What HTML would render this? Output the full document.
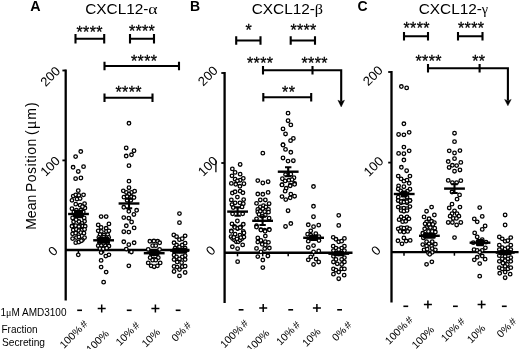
<!DOCTYPE html>
<html><head><meta charset="utf-8"><style>
html,body{margin:0;padding:0;background:#fff;}
svg{display:block;filter:grayscale(1);}
</style></head><body>
<svg width="520" height="349" viewBox="0 0 520 349">
<rect width="520" height="349" fill="#fff"/>
<text x="30.2" y="10.8" font-size="14.3" text-anchor="start" font-weight="bold" font-family="Liberation Sans, sans-serif">A</text>
<text x="189.9" y="10.8" font-size="14" text-anchor="start" font-weight="bold" font-family="Liberation Sans, sans-serif">B</text>
<text x="357.6" y="11.1" font-size="14" text-anchor="start" font-weight="bold" font-family="Liberation Sans, sans-serif">C</text>
<text x="0" y="0" font-size="14" font-family="Liberation Sans, sans-serif" transform="translate(85.2 14) scale(1.1 1)">CXCL12-</text>
<text x="0" y="0" font-size="14.5" font-family="Liberation Serif, serif" transform="translate(148.2 13.8) scale(1.22 1)">α</text>
<text x="0" y="0" font-size="14" font-family="Liberation Sans, sans-serif" transform="translate(251.7 14) scale(1.1 1)">CXCL12-</text>
<text x="0" y="0" font-size="14.5" font-family="Liberation Serif, serif" transform="translate(314.7 13.8) scale(1.12 1)">β</text>
<text x="0" y="0" font-size="14" font-family="Liberation Sans, sans-serif" transform="translate(418.7 14) scale(1.1 1)">CXCL12-</text>
<text x="0" y="0" font-size="14.5" font-family="Liberation Serif, serif" transform="translate(481.7 13.8) scale(0.98 1)">γ</text>
<path d="M65.7 69.5V300.5" stroke="#000" stroke-width="2.3" fill="none"/>
<path d="M65.7 250H189.5" stroke="#000" stroke-width="2.4" fill="none"/>
<path d="M62.400000000000006 70.5H65.7" stroke="#000" stroke-width="1.8" fill="none"/>
<path d="M62.400000000000006 160.4H65.7" stroke="#000" stroke-width="1.8" fill="none"/>
<text x="61.00000000000001" y="71.8" font-size="13" text-anchor="end" font-family="Liberation Sans, sans-serif" transform="rotate(-45 61.00000000000001 71.8)">200</text>
<text x="61.00000000000001" y="161.70000000000002" font-size="13" text-anchor="end" font-family="Liberation Sans, sans-serif" transform="rotate(-45 61.00000000000001 161.70000000000002)">100</text>
<text x="58.73" y="251.54000000000002" font-size="13" text-anchor="end" font-family="Liberation Sans, sans-serif" transform="rotate(-45 58.73 251.54000000000002)">0</text>
<path d="M224.6 72V303" stroke="#000" stroke-width="2.3" fill="none"/>
<path d="M224.6 252.75H352.5" stroke="#000" stroke-width="2.4" fill="none"/>
<path d="M221.29999999999998 73H224.6" stroke="#000" stroke-width="1.8" fill="none"/>
<path d="M221.29999999999998 163H224.6" stroke="#000" stroke-width="1.8" fill="none"/>
<text x="218.7" y="71.3" font-size="13" text-anchor="end" font-family="Liberation Sans, sans-serif" transform="rotate(-45 218.7 71.3)">200</text>
<text x="218.7" y="161.60000000000002" font-size="13" text-anchor="end" font-family="Liberation Sans, sans-serif" transform="rotate(-45 218.7 161.60000000000002)">100</text>
<text x="216.33" y="251.04000000000002" font-size="13" text-anchor="end" font-family="Liberation Sans, sans-serif" transform="rotate(-45 216.33 251.04000000000002)">0</text>
<path d="M215.9 160.8V172.2" stroke="#000" stroke-width="1.3"/>
<path d="M391.5 71V302.5" stroke="#000" stroke-width="2.3" fill="none"/>
<path d="M391.5 252.1H518.6" stroke="#000" stroke-width="2.4" fill="none"/>
<path d="M388.2 72H391.5" stroke="#000" stroke-width="1.8" fill="none"/>
<path d="M388.2 162.6H391.5" stroke="#000" stroke-width="1.8" fill="none"/>
<text x="383.70000000000005" y="71.2" font-size="13" text-anchor="end" font-family="Liberation Sans, sans-serif" transform="rotate(-45 383.70000000000005 71.2)">200</text>
<text x="384.3" y="161.8" font-size="13" text-anchor="end" font-family="Liberation Sans, sans-serif" transform="rotate(-45 384.3 161.8)">100</text>
<text x="381.63" y="251.24" font-size="13" text-anchor="end" font-family="Liberation Sans, sans-serif" transform="rotate(-45 381.63 251.24)">0</text>
<text x="0" y="0" font-size="14" font-family="Liberation Sans, sans-serif" transform="translate(35.8 229.8) rotate(-90)" >Mean</text>
<text x="0" y="0" font-size="14" font-family="Liberation Sans, sans-serif" transform="translate(35.8 192.0) rotate(-90)" letter-spacing="0.5">Position</text>
<text x="0" y="0" font-size="14" font-family="Liberation Sans, sans-serif" transform="translate(35.8 135.0) rotate(-90)" letter-spacing="1.05">(<tspan font-family="Liberation Serif, serif" font-size="16">μ</tspan>m)</text>
<path d="M75.5 34.0V43.400000000000006M75.5 38.7H104.2M104.2 34.0V43.400000000000006" stroke="#000" stroke-width="2.1" fill="none"/>
<text x="89.65" y="37.8" letter-spacing="0.3" stroke="#000" stroke-width="0.3" font-size="16" text-anchor="middle" font-family="Liberation Sans, sans-serif">****</text>
<path d="M130 34.0V43.400000000000006M130 38.7H154M154 34.0V43.400000000000006" stroke="#000" stroke-width="2.1" fill="none"/>
<text x="141.95000000000002" y="37.3" letter-spacing="0.3" stroke="#000" stroke-width="0.3" font-size="16" text-anchor="middle" font-family="Liberation Sans, sans-serif">****</text>
<path d="M104.5 61.8V70.2M104.5 66H179M179 61.8V70.2" stroke="#000" stroke-width="2.1" fill="none"/>
<text x="144.15" y="67.3" letter-spacing="0.3" stroke="#000" stroke-width="0.3" font-size="16" text-anchor="middle" font-family="Liberation Sans, sans-serif">****</text>
<path d="M104.5 93.5V101.9M104.5 97.7H152.5M152.5 93.5V101.9" stroke="#000" stroke-width="2.1" fill="none"/>
<text x="128.65" y="98.3" letter-spacing="0.3" stroke="#000" stroke-width="0.3" font-size="16" text-anchor="middle" font-family="Liberation Sans, sans-serif">****</text>
<path d="M236.2 36.3V44.7M236.2 40.5H260.5M260.5 36.3V44.7" stroke="#000" stroke-width="2.1" fill="none"/>
<text x="248.85" y="36.099999999999994" letter-spacing="0.3" stroke="#000" stroke-width="0.3" font-size="16" text-anchor="middle" font-family="Liberation Sans, sans-serif">*</text>
<path d="M290.7 36.3V44.7M290.7 40.5H315M315 36.3V44.7" stroke="#000" stroke-width="2.1" fill="none"/>
<text x="303.54999999999995" y="36.099999999999994" letter-spacing="0.3" stroke="#000" stroke-width="0.3" font-size="16" text-anchor="middle" font-family="Liberation Sans, sans-serif">****</text>
<path d="M263 66V74.6M263 70.3H341.2V101.5M312.5 66V74.6" stroke="#000" stroke-width="2.1" fill="none"/>
<path d="M337.9 100.2L341.2 101.6L344.5 100.2L341.2 106.9Z" fill="#000" stroke="#000" stroke-width="0.4"/>
<text x="260.15" y="68.8" letter-spacing="0.3" stroke="#000" stroke-width="0.3" font-size="16" text-anchor="middle" font-family="Liberation Sans, sans-serif">****</text>
<text x="314.65" y="68.8" letter-spacing="0.3" stroke="#000" stroke-width="0.3" font-size="16" text-anchor="middle" font-family="Liberation Sans, sans-serif">****</text>
<path d="M263.3 93.1V101.5M263.3 97.3H311.2M311.2 93.1V101.5" stroke="#000" stroke-width="2.1" fill="none"/>
<text x="288.65" y="97.8" letter-spacing="0.3" stroke="#000" stroke-width="0.3" font-size="16" text-anchor="middle" font-family="Liberation Sans, sans-serif">**</text>
<path d="M404 32.0V40.400000000000006M404 36.2H428M428 32.0V40.400000000000006" stroke="#000" stroke-width="2.1" fill="none"/>
<text x="416.65" y="33.599999999999994" letter-spacing="0.3" stroke="#000" stroke-width="0.3" font-size="16" text-anchor="middle" font-family="Liberation Sans, sans-serif">****</text>
<path d="M458 32.0V40.400000000000006M458 36.2H482.5M482.5 32.0V40.400000000000006" stroke="#000" stroke-width="2.1" fill="none"/>
<text x="471.15" y="33.599999999999994" letter-spacing="0.3" stroke="#000" stroke-width="0.3" font-size="16" text-anchor="middle" font-family="Liberation Sans, sans-serif">****</text>
<path d="M428 64V72.6M428 68.2H507.9V100.5M479.6 64V72.6" stroke="#000" stroke-width="2.1" fill="none"/>
<path d="M504.6 99.4L507.9 100.8L511.2 99.4L507.9 105.8Z" fill="#000" stroke="#000" stroke-width="0.4"/>
<text x="428.65" y="66.6" letter-spacing="0.3" stroke="#000" stroke-width="0.3" font-size="16" text-anchor="middle" font-family="Liberation Sans, sans-serif">****</text>
<text x="478.84999999999997" y="66.6" letter-spacing="0.3" stroke="#000" stroke-width="0.3" font-size="16" text-anchor="middle" font-family="Liberation Sans, sans-serif">**</text>
<text x="0.5" y="316" font-size="10" font-family="Liberation Sans, sans-serif">1<tspan font-family="Liberation Serif, serif">μ</tspan>M AMD3100</text>
<text x="1.5" y="333" font-size="10" text-anchor="start" font-weight="normal" font-family="Liberation Sans, sans-serif">Fraction</text>
<text x="2" y="345.8" font-size="10.2" text-anchor="start" font-weight="normal" font-family="Liberation Sans, sans-serif">Secreting</text>
<path d="M77.19999999999999 310.3H82.0" stroke="#000" stroke-width="1.6"/>
<text x="88.4" y="324.6" font-size="10.5" text-anchor="end" font-family="Liberation Sans, sans-serif" transform="rotate(-45 88.4 324.6)">100%<tspan dx="1.8">#</tspan></text>
<path d="M97.7 308.6H105.7M101.7 304.6V312.6" stroke="#000" stroke-width="1.5"/>
<text x="109.60000000000001" y="334.3" font-size="10.5" text-anchor="end" font-family="Liberation Sans, sans-serif" transform="rotate(-45 109.60000000000001 334.3)">100%</text>
<path d="M126.79999999999998 310.3H131.6" stroke="#000" stroke-width="1.6"/>
<text x="140.3" y="326.0" font-size="10.5" text-anchor="end" font-family="Liberation Sans, sans-serif" transform="rotate(-45 140.3 326.0)">10%<tspan dx="1.8">#</tspan></text>
<path d="M151.4 308.6H159.4M155.4 304.6V312.6" stroke="#000" stroke-width="1.5"/>
<text x="160.8" y="333.0" font-size="10.5" text-anchor="end" font-family="Liberation Sans, sans-serif" transform="rotate(-45 160.8 333.0)">10%</text>
<path d="M175.7 310.3H180.5" stroke="#000" stroke-width="1.6"/>
<text x="191.9" y="326.0" font-size="10.5" text-anchor="end" font-family="Liberation Sans, sans-serif" transform="rotate(-45 191.9 326.0)">0%<tspan dx="1.8">#</tspan></text>
<path d="M238.7 309.8H243.5" stroke="#000" stroke-width="1.6"/>
<text x="248.9" y="324.1" font-size="10.5" text-anchor="end" font-family="Liberation Sans, sans-serif" transform="rotate(-45 248.9 324.1)">100%<tspan dx="1.8">#</tspan></text>
<path d="M259.2 308.1H267.2M263.2 304.1V312.1" stroke="#000" stroke-width="1.5"/>
<text x="270.09999999999997" y="333.8" font-size="10.5" text-anchor="end" font-family="Liberation Sans, sans-serif" transform="rotate(-45 270.09999999999997 333.8)">100%</text>
<path d="M288.3 309.8H293.09999999999997" stroke="#000" stroke-width="1.6"/>
<text x="300.79999999999995" y="325.5" font-size="10.5" text-anchor="end" font-family="Liberation Sans, sans-serif" transform="rotate(-45 300.79999999999995 325.5)">10%<tspan dx="1.8">#</tspan></text>
<path d="M312.9 308.1H320.9M316.9 304.1V312.1" stroke="#000" stroke-width="1.5"/>
<text x="321.29999999999995" y="332.5" font-size="10.5" text-anchor="end" font-family="Liberation Sans, sans-serif" transform="rotate(-45 321.29999999999995 332.5)">10%</text>
<path d="M337.20000000000005 309.8H342.0" stroke="#000" stroke-width="1.6"/>
<text x="352.4" y="325.5" font-size="10.5" text-anchor="end" font-family="Liberation Sans, sans-serif" transform="rotate(-45 352.4 325.5)">0%<tspan dx="1.8">#</tspan></text>
<path d="M403.4 306.3H408.19999999999993" stroke="#000" stroke-width="1.6"/>
<text x="413.7" y="320.6" font-size="10.5" text-anchor="end" font-family="Liberation Sans, sans-serif" transform="rotate(-45 413.7 320.6)">100%<tspan dx="1.8">#</tspan></text>
<path d="M423.9 304.6H431.9M427.9 300.6V308.6" stroke="#000" stroke-width="1.5"/>
<text x="434.9" y="330.3" font-size="10.5" text-anchor="end" font-family="Liberation Sans, sans-serif" transform="rotate(-45 434.9 330.3)">100%</text>
<path d="M453.0 306.3H457.79999999999995" stroke="#000" stroke-width="1.6"/>
<text x="465.6" y="322.0" font-size="10.5" text-anchor="end" font-family="Liberation Sans, sans-serif" transform="rotate(-45 465.6 322.0)">10%<tspan dx="1.8">#</tspan></text>
<path d="M477.6 304.6H485.6M481.6 300.6V308.6" stroke="#000" stroke-width="1.5"/>
<text x="486.1" y="329.0" font-size="10.5" text-anchor="end" font-family="Liberation Sans, sans-serif" transform="rotate(-45 486.1 329.0)">10%</text>
<path d="M501.9 306.3H506.69999999999993" stroke="#000" stroke-width="1.6"/>
<text x="517.1999999999999" y="322.0" font-size="10.5" text-anchor="end" font-family="Liberation Sans, sans-serif" transform="rotate(-45 517.1999999999999 322.0)">0%<tspan dx="1.8">#</tspan></text>
<path d="M78.4 249.75V253.35" stroke="#000" stroke-width="1.5"/>
<path d="M103.6 249.75V253.35" stroke="#000" stroke-width="1.5"/>
<path d="M128.6 249.75V253.35" stroke="#000" stroke-width="1.5"/>
<path d="M154.2 249.75V253.35" stroke="#000" stroke-width="1.5"/>
<path d="M179.5 249.75V253.35" stroke="#000" stroke-width="1.5"/>
<path d="M237.5 252.75V256.35" stroke="#000" stroke-width="1.5"/>
<path d="M262.7 252.75V256.35" stroke="#000" stroke-width="1.5"/>
<path d="M288.2 252.75V256.35" stroke="#000" stroke-width="1.5"/>
<path d="M313.6 252.75V256.35" stroke="#000" stroke-width="1.5"/>
<path d="M338.8 252.75V256.35" stroke="#000" stroke-width="1.5"/>
<path d="M404 252.1V255.7" stroke="#000" stroke-width="1.5"/>
<path d="M429.4 252.1V255.7" stroke="#000" stroke-width="1.5"/>
<path d="M454.4 252.1V255.7" stroke="#000" stroke-width="1.5"/>
<path d="M480 252.1V255.7" stroke="#000" stroke-width="1.5"/>
<path d="M505.2 252.1V255.7" stroke="#000" stroke-width="1.5"/>
<circle cx="80.78" cy="151.55" r="1.78" fill="#fff" stroke="#000" stroke-width="1.3"/>
<circle cx="75.62" cy="156.59" r="1.78" fill="#fff" stroke="#000" stroke-width="1.3"/>
<circle cx="73.1" cy="167.29" r="1.78" fill="#fff" stroke="#000" stroke-width="1.3"/>
<circle cx="83.55" cy="166.66" r="1.78" fill="#fff" stroke="#000" stroke-width="1.3"/>
<circle cx="78.26" cy="171.45" r="1.78" fill="#fff" stroke="#000" stroke-width="1.3"/>
<circle cx="75.62" cy="178.63" r="1.78" fill="#fff" stroke="#000" stroke-width="1.3"/>
<circle cx="80.91" cy="178.0" r="1.78" fill="#fff" stroke="#000" stroke-width="1.3"/>
<circle cx="78.26" cy="190.67" r="1.78" fill="#fff" stroke="#000" stroke-width="1.3"/>
<circle cx="73.22" cy="196.08" r="1.78" fill="#fff" stroke="#000" stroke-width="1.3"/>
<circle cx="75.74" cy="194.82" r="1.78" fill="#fff" stroke="#000" stroke-width="1.3"/>
<circle cx="78.89" cy="195.33" r="1.78" fill="#fff" stroke="#000" stroke-width="1.3"/>
<circle cx="83.55" cy="194.82" r="1.78" fill="#fff" stroke="#000" stroke-width="1.3"/>
<circle cx="71.96" cy="200.37" r="1.78" fill="#fff" stroke="#000" stroke-width="1.3"/>
<circle cx="77.0" cy="199.11" r="1.78" fill="#fff" stroke="#000" stroke-width="1.3"/>
<circle cx="80.15" cy="198.6" r="1.78" fill="#fff" stroke="#000" stroke-width="1.3"/>
<circle cx="75.74" cy="204.14" r="1.78" fill="#fff" stroke="#000" stroke-width="1.3"/>
<circle cx="80.15" cy="205.15" r="1.78" fill="#fff" stroke="#000" stroke-width="1.3"/>
<circle cx="84.56" cy="203.64" r="1.78" fill="#fff" stroke="#000" stroke-width="1.3"/>
<circle cx="71.96" cy="208.68" r="1.78" fill="#fff" stroke="#000" stroke-width="1.3"/>
<circle cx="84.94" cy="208.05" r="1.78" fill="#fff" stroke="#000" stroke-width="1.3"/>
<circle cx="82.42" cy="206.66" r="1.78" fill="#fff" stroke="#000" stroke-width="1.3"/>
<circle cx="73.85" cy="212.08" r="1.78" fill="#fff" stroke="#000" stroke-width="1.3"/>
<circle cx="83.3" cy="212.08" r="1.78" fill="#fff" stroke="#000" stroke-width="1.3"/>
<circle cx="76.37" cy="210.19" r="1.78" fill="#fff" stroke="#000" stroke-width="1.3"/>
<circle cx="80.78" cy="210.19" r="1.78" fill="#fff" stroke="#000" stroke-width="1.3"/>
<circle cx="78.26" cy="214.6" r="1.78" fill="#fff" stroke="#000" stroke-width="1.3"/>
<circle cx="75.11" cy="215.23" r="1.78" fill="#fff" stroke="#000" stroke-width="1.3"/>
<circle cx="81.66" cy="215.23" r="1.78" fill="#fff" stroke="#000" stroke-width="1.3"/>
<circle cx="72.59" cy="218.0" r="1.78" fill="#fff" stroke="#000" stroke-width="1.3"/>
<circle cx="84.18" cy="218.0" r="1.78" fill="#fff" stroke="#000" stroke-width="1.3"/>
<circle cx="73.6" cy="221.78" r="1.78" fill="#fff" stroke="#000" stroke-width="1.3"/>
<circle cx="78.89" cy="221.52" r="1.78" fill="#fff" stroke="#000" stroke-width="1.3"/>
<circle cx="84.56" cy="221.27" r="1.78" fill="#fff" stroke="#000" stroke-width="1.3"/>
<circle cx="82.04" cy="223.41" r="1.78" fill="#fff" stroke="#000" stroke-width="1.3"/>
<circle cx="76.12" cy="219.63" r="1.78" fill="#fff" stroke="#000" stroke-width="1.3"/>
<circle cx="72.59" cy="225.93" r="1.78" fill="#fff" stroke="#000" stroke-width="1.3"/>
<circle cx="76.37" cy="226.31" r="1.78" fill="#fff" stroke="#000" stroke-width="1.3"/>
<circle cx="80.15" cy="225.55" r="1.78" fill="#fff" stroke="#000" stroke-width="1.3"/>
<circle cx="83.93" cy="225.93" r="1.78" fill="#fff" stroke="#000" stroke-width="1.3"/>
<circle cx="71.96" cy="226.26" r="1.78" fill="#fff" stroke="#000" stroke-width="1.3"/>
<circle cx="75.74" cy="225.63" r="1.78" fill="#fff" stroke="#000" stroke-width="1.3"/>
<circle cx="78.89" cy="226.51" r="1.78" fill="#fff" stroke="#000" stroke-width="1.3"/>
<circle cx="82.67" cy="226.01" r="1.78" fill="#fff" stroke="#000" stroke-width="1.3"/>
<circle cx="85.19" cy="226.26" r="1.78" fill="#fff" stroke="#000" stroke-width="1.3"/>
<circle cx="73.22" cy="230.04" r="1.78" fill="#fff" stroke="#000" stroke-width="1.3"/>
<circle cx="76.37" cy="229.41" r="1.78" fill="#fff" stroke="#000" stroke-width="1.3"/>
<circle cx="78.89" cy="230.67" r="1.78" fill="#fff" stroke="#000" stroke-width="1.3"/>
<circle cx="82.04" cy="230.04" r="1.78" fill="#fff" stroke="#000" stroke-width="1.3"/>
<circle cx="84.56" cy="229.41" r="1.78" fill="#fff" stroke="#000" stroke-width="1.3"/>
<circle cx="72.59" cy="233.82" r="1.78" fill="#fff" stroke="#000" stroke-width="1.3"/>
<circle cx="75.74" cy="233.19" r="1.78" fill="#fff" stroke="#000" stroke-width="1.3"/>
<circle cx="78.89" cy="234.45" r="1.78" fill="#fff" stroke="#000" stroke-width="1.3"/>
<circle cx="80.78" cy="232.56" r="1.78" fill="#fff" stroke="#000" stroke-width="1.3"/>
<circle cx="83.93" cy="233.19" r="1.78" fill="#fff" stroke="#000" stroke-width="1.3"/>
<circle cx="72.59" cy="238.6" r="1.78" fill="#fff" stroke="#000" stroke-width="1.3"/>
<circle cx="76.37" cy="237.59" r="1.78" fill="#fff" stroke="#000" stroke-width="1.3"/>
<circle cx="78.89" cy="236.96" r="1.78" fill="#fff" stroke="#000" stroke-width="1.3"/>
<circle cx="82.67" cy="239.48" r="1.78" fill="#fff" stroke="#000" stroke-width="1.3"/>
<circle cx="84.56" cy="237.59" r="1.78" fill="#fff" stroke="#000" stroke-width="1.3"/>
<circle cx="75.74" cy="242.63" r="1.78" fill="#fff" stroke="#000" stroke-width="1.3"/>
<circle cx="78.89" cy="242.0" r="1.78" fill="#fff" stroke="#000" stroke-width="1.3"/>
<circle cx="81.41" cy="240.74" r="1.78" fill="#fff" stroke="#000" stroke-width="1.3"/>
<circle cx="78.26" cy="254.85" r="1.78" fill="#fff" stroke="#000" stroke-width="1.3"/>
<circle cx="101.12" cy="216.59" r="1.78" fill="#fff" stroke="#000" stroke-width="1.3"/>
<circle cx="106.16" cy="216.59" r="1.78" fill="#fff" stroke="#000" stroke-width="1.3"/>
<circle cx="98.22" cy="224.9" r="1.78" fill="#fff" stroke="#000" stroke-width="1.3"/>
<circle cx="108.93" cy="223.89" r="1.78" fill="#fff" stroke="#000" stroke-width="1.3"/>
<circle cx="101.12" cy="227.42" r="1.78" fill="#fff" stroke="#000" stroke-width="1.3"/>
<circle cx="106.16" cy="228.3" r="1.78" fill="#fff" stroke="#000" stroke-width="1.3"/>
<circle cx="98.22" cy="230.82" r="1.78" fill="#fff" stroke="#000" stroke-width="1.3"/>
<circle cx="101.37" cy="231.45" r="1.78" fill="#fff" stroke="#000" stroke-width="1.3"/>
<circle cx="106.41" cy="231.45" r="1.78" fill="#fff" stroke="#000" stroke-width="1.3"/>
<circle cx="108.93" cy="230.82" r="1.78" fill="#fff" stroke="#000" stroke-width="1.3"/>
<circle cx="100.11" cy="234.6" r="1.78" fill="#fff" stroke="#000" stroke-width="1.3"/>
<circle cx="103.89" cy="235.23" r="1.78" fill="#fff" stroke="#000" stroke-width="1.3"/>
<circle cx="107.67" cy="234.6" r="1.78" fill="#fff" stroke="#000" stroke-width="1.3"/>
<circle cx="103.64" cy="237.12" r="1.78" fill="#fff" stroke="#000" stroke-width="1.3"/>
<circle cx="98.85" cy="237.49" r="1.78" fill="#fff" stroke="#000" stroke-width="1.3"/>
<circle cx="108.68" cy="237.49" r="1.78" fill="#fff" stroke="#000" stroke-width="1.3"/>
<circle cx="98.22" cy="245.67" r="1.78" fill="#fff" stroke="#000" stroke-width="1.3"/>
<circle cx="101.37" cy="245.29" r="1.78" fill="#fff" stroke="#000" stroke-width="1.3"/>
<circle cx="105.15" cy="245.29" r="1.78" fill="#fff" stroke="#000" stroke-width="1.3"/>
<circle cx="108.93" cy="246.05" r="1.78" fill="#fff" stroke="#000" stroke-width="1.3"/>
<circle cx="99.86" cy="248.56" r="1.78" fill="#fff" stroke="#000" stroke-width="1.3"/>
<circle cx="103.26" cy="248.82" r="1.78" fill="#fff" stroke="#000" stroke-width="1.3"/>
<circle cx="106.66" cy="248.19" r="1.78" fill="#fff" stroke="#000" stroke-width="1.3"/>
<circle cx="101.12" cy="252.59" r="1.78" fill="#fff" stroke="#000" stroke-width="1.3"/>
<circle cx="108.93" cy="254.86" r="1.78" fill="#fff" stroke="#000" stroke-width="1.3"/>
<circle cx="105.78" cy="256.12" r="1.78" fill="#fff" stroke="#000" stroke-width="1.3"/>
<circle cx="101.12" cy="260.4" r="1.78" fill="#fff" stroke="#000" stroke-width="1.3"/>
<circle cx="101.12" cy="267.08" r="1.78" fill="#fff" stroke="#000" stroke-width="1.3"/>
<circle cx="106.16" cy="272.12" r="1.78" fill="#fff" stroke="#000" stroke-width="1.3"/>
<circle cx="103.64" cy="282.19" r="1.78" fill="#fff" stroke="#000" stroke-width="1.3"/>
<circle cx="99.48" cy="242.52" r="1.78" fill="#fff" stroke="#000" stroke-width="1.3"/>
<circle cx="107.67" cy="242.52" r="1.78" fill="#fff" stroke="#000" stroke-width="1.3"/>
<circle cx="103.64" cy="243.15" r="1.78" fill="#fff" stroke="#000" stroke-width="1.3"/>
<circle cx="128.97" cy="123.29" r="1.78" fill="#fff" stroke="#000" stroke-width="1.3"/>
<circle cx="126.2" cy="147.97" r="1.78" fill="#fff" stroke="#000" stroke-width="1.3"/>
<circle cx="134.01" cy="150.75" r="1.78" fill="#fff" stroke="#000" stroke-width="1.3"/>
<circle cx="131.49" cy="154.78" r="1.78" fill="#fff" stroke="#000" stroke-width="1.3"/>
<circle cx="126.2" cy="156.04" r="1.78" fill="#fff" stroke="#000" stroke-width="1.3"/>
<circle cx="128.97" cy="165.67" r="1.78" fill="#fff" stroke="#000" stroke-width="1.3"/>
<circle cx="128.97" cy="181.16" r="1.78" fill="#fff" stroke="#000" stroke-width="1.3"/>
<circle cx="128.97" cy="187.71" r="1.78" fill="#fff" stroke="#000" stroke-width="1.3"/>
<circle cx="123.3" cy="190.86" r="1.78" fill="#fff" stroke="#000" stroke-width="1.3"/>
<circle cx="126.45" cy="192.49" r="1.78" fill="#fff" stroke="#000" stroke-width="1.3"/>
<circle cx="131.49" cy="192.49" r="1.78" fill="#fff" stroke="#000" stroke-width="1.3"/>
<circle cx="134.63" cy="191.23" r="1.78" fill="#fff" stroke="#000" stroke-width="1.3"/>
<circle cx="128.97" cy="194.26" r="1.78" fill="#fff" stroke="#000" stroke-width="1.3"/>
<circle cx="123.93" cy="197.15" r="1.78" fill="#fff" stroke="#000" stroke-width="1.3"/>
<circle cx="127.08" cy="196.52" r="1.78" fill="#fff" stroke="#000" stroke-width="1.3"/>
<circle cx="131.49" cy="196.78" r="1.78" fill="#fff" stroke="#000" stroke-width="1.3"/>
<circle cx="134.01" cy="197.53" r="1.78" fill="#fff" stroke="#000" stroke-width="1.3"/>
<circle cx="127.08" cy="200.3" r="1.78" fill="#fff" stroke="#000" stroke-width="1.3"/>
<circle cx="130.86" cy="200.3" r="1.78" fill="#fff" stroke="#000" stroke-width="1.3"/>
<circle cx="123.79" cy="207.27" r="1.78" fill="#fff" stroke="#000" stroke-width="1.3"/>
<circle cx="128.83" cy="211.3" r="1.78" fill="#fff" stroke="#000" stroke-width="1.3"/>
<circle cx="136.64" cy="210.29" r="1.78" fill="#fff" stroke="#000" stroke-width="1.3"/>
<circle cx="133.87" cy="214.45" r="1.78" fill="#fff" stroke="#000" stroke-width="1.3"/>
<circle cx="123.79" cy="217.59" r="1.78" fill="#fff" stroke="#000" stroke-width="1.3"/>
<circle cx="128.83" cy="218.22" r="1.78" fill="#fff" stroke="#000" stroke-width="1.3"/>
<circle cx="131.6" cy="222.0" r="1.78" fill="#fff" stroke="#000" stroke-width="1.3"/>
<circle cx="126.31" cy="225.78" r="1.78" fill="#fff" stroke="#000" stroke-width="1.3"/>
<circle cx="134.12" cy="227.92" r="1.78" fill="#fff" stroke="#000" stroke-width="1.3"/>
<circle cx="123.79" cy="231.7" r="1.78" fill="#fff" stroke="#000" stroke-width="1.3"/>
<circle cx="128.83" cy="232.08" r="1.78" fill="#fff" stroke="#000" stroke-width="1.3"/>
<circle cx="123.79" cy="241.78" r="1.78" fill="#fff" stroke="#000" stroke-width="1.3"/>
<circle cx="128.83" cy="244.67" r="1.78" fill="#fff" stroke="#000" stroke-width="1.3"/>
<circle cx="134.12" cy="242.78" r="1.78" fill="#fff" stroke="#000" stroke-width="1.3"/>
<circle cx="126.31" cy="249.07" r="1.78" fill="#fff" stroke="#000" stroke-width="1.3"/>
<circle cx="131.35" cy="251.96" r="1.78" fill="#fff" stroke="#000" stroke-width="1.3"/>
<circle cx="128.83" cy="265.82" r="1.78" fill="#fff" stroke="#000" stroke-width="1.3"/>
<circle cx="149.86" cy="241.26" r="1.78" fill="#fff" stroke="#000" stroke-width="1.3"/>
<circle cx="153.89" cy="241.01" r="1.78" fill="#fff" stroke="#000" stroke-width="1.3"/>
<circle cx="157.67" cy="241.26" r="1.78" fill="#fff" stroke="#000" stroke-width="1.3"/>
<circle cx="159.69" cy="242.77" r="1.78" fill="#fff" stroke="#000" stroke-width="1.3"/>
<circle cx="152.63" cy="245.67" r="1.78" fill="#fff" stroke="#000" stroke-width="1.3"/>
<circle cx="155.78" cy="245.67" r="1.78" fill="#fff" stroke="#000" stroke-width="1.3"/>
<circle cx="148.22" cy="249.45" r="1.78" fill="#fff" stroke="#000" stroke-width="1.3"/>
<circle cx="159.56" cy="249.45" r="1.78" fill="#fff" stroke="#000" stroke-width="1.3"/>
<circle cx="150.11" cy="257.63" r="1.78" fill="#fff" stroke="#000" stroke-width="1.3"/>
<circle cx="153.89" cy="258.89" r="1.78" fill="#fff" stroke="#000" stroke-width="1.3"/>
<circle cx="158.3" cy="257.63" r="1.78" fill="#fff" stroke="#000" stroke-width="1.3"/>
<circle cx="152.63" cy="260.15" r="1.78" fill="#fff" stroke="#000" stroke-width="1.3"/>
<circle cx="155.78" cy="260.15" r="1.78" fill="#fff" stroke="#000" stroke-width="1.3"/>
<circle cx="148.22" cy="262.92" r="1.78" fill="#fff" stroke="#000" stroke-width="1.3"/>
<circle cx="160.19" cy="262.92" r="1.78" fill="#fff" stroke="#000" stroke-width="1.3"/>
<circle cx="151.12" cy="265.82" r="1.78" fill="#fff" stroke="#000" stroke-width="1.3"/>
<circle cx="154.14" cy="266.7" r="1.78" fill="#fff" stroke="#000" stroke-width="1.3"/>
<circle cx="157.42" cy="265.82" r="1.78" fill="#fff" stroke="#000" stroke-width="1.3"/>
<circle cx="179.46" cy="213.56" r="1.78" fill="#fff" stroke="#000" stroke-width="1.3"/>
<circle cx="179.46" cy="222.63" r="1.78" fill="#fff" stroke="#000" stroke-width="1.3"/>
<circle cx="173.79" cy="234.97" r="1.78" fill="#fff" stroke="#000" stroke-width="1.3"/>
<circle cx="176.56" cy="236.74" r="1.78" fill="#fff" stroke="#000" stroke-width="1.3"/>
<circle cx="179.46" cy="239.63" r="1.78" fill="#fff" stroke="#000" stroke-width="1.3"/>
<circle cx="182.23" cy="238.75" r="1.78" fill="#fff" stroke="#000" stroke-width="1.3"/>
<circle cx="185.13" cy="235.86" r="1.78" fill="#fff" stroke="#000" stroke-width="1.3"/>
<circle cx="174.04" cy="242.77" r="1.78" fill="#fff" stroke="#000" stroke-width="1.3"/>
<circle cx="176.56" cy="245.04" r="1.78" fill="#fff" stroke="#000" stroke-width="1.3"/>
<circle cx="179.46" cy="246.93" r="1.78" fill="#fff" stroke="#000" stroke-width="1.3"/>
<circle cx="182.23" cy="245.04" r="1.78" fill="#fff" stroke="#000" stroke-width="1.3"/>
<circle cx="185.13" cy="243.15" r="1.78" fill="#fff" stroke="#000" stroke-width="1.3"/>
<circle cx="175.05" cy="248.19" r="1.78" fill="#fff" stroke="#000" stroke-width="1.3"/>
<circle cx="185.13" cy="248.19" r="1.78" fill="#fff" stroke="#000" stroke-width="1.3"/>
<circle cx="174.04" cy="255.11" r="1.78" fill="#fff" stroke="#000" stroke-width="1.3"/>
<circle cx="185.13" cy="255.74" r="1.78" fill="#fff" stroke="#000" stroke-width="1.3"/>
<circle cx="176.56" cy="257.0" r="1.78" fill="#fff" stroke="#000" stroke-width="1.3"/>
<circle cx="182.23" cy="257.0" r="1.78" fill="#fff" stroke="#000" stroke-width="1.3"/>
<circle cx="174.04" cy="259.52" r="1.78" fill="#fff" stroke="#000" stroke-width="1.3"/>
<circle cx="179.46" cy="258.89" r="1.78" fill="#fff" stroke="#000" stroke-width="1.3"/>
<circle cx="185.13" cy="259.52" r="1.78" fill="#fff" stroke="#000" stroke-width="1.3"/>
<circle cx="177.19" cy="262.04" r="1.78" fill="#fff" stroke="#000" stroke-width="1.3"/>
<circle cx="181.6" cy="262.67" r="1.78" fill="#fff" stroke="#000" stroke-width="1.3"/>
<circle cx="174.04" cy="266.45" r="1.78" fill="#fff" stroke="#000" stroke-width="1.3"/>
<circle cx="177.19" cy="267.08" r="1.78" fill="#fff" stroke="#000" stroke-width="1.3"/>
<circle cx="182.23" cy="266.7" r="1.78" fill="#fff" stroke="#000" stroke-width="1.3"/>
<circle cx="185.13" cy="266.2" r="1.78" fill="#fff" stroke="#000" stroke-width="1.3"/>
<circle cx="179.46" cy="269.6" r="1.78" fill="#fff" stroke="#000" stroke-width="1.3"/>
<circle cx="174.04" cy="271.49" r="1.78" fill="#fff" stroke="#000" stroke-width="1.3"/>
<circle cx="185.13" cy="272.49" r="1.78" fill="#fff" stroke="#000" stroke-width="1.3"/>
<circle cx="179.46" cy="275.89" r="1.78" fill="#fff" stroke="#000" stroke-width="1.3"/>
<circle cx="240.15" cy="164.48" r="1.78" fill="#fff" stroke="#000" stroke-width="1.3"/>
<circle cx="232.34" cy="168.89" r="1.78" fill="#fff" stroke="#000" stroke-width="1.3"/>
<circle cx="235.11" cy="172.42" r="1.78" fill="#fff" stroke="#000" stroke-width="1.3"/>
<circle cx="240.15" cy="174.18" r="1.78" fill="#fff" stroke="#000" stroke-width="1.3"/>
<circle cx="231.96" cy="175.82" r="1.78" fill="#fff" stroke="#000" stroke-width="1.3"/>
<circle cx="243.3" cy="178.34" r="1.78" fill="#fff" stroke="#000" stroke-width="1.3"/>
<circle cx="235.11" cy="179.22" r="1.78" fill="#fff" stroke="#000" stroke-width="1.3"/>
<circle cx="240.15" cy="180.23" r="1.78" fill="#fff" stroke="#000" stroke-width="1.3"/>
<circle cx="237.38" cy="180.86" r="1.78" fill="#fff" stroke="#000" stroke-width="1.3"/>
<circle cx="231.34" cy="183.38" r="1.78" fill="#fff" stroke="#000" stroke-width="1.3"/>
<circle cx="243.93" cy="183.75" r="1.78" fill="#fff" stroke="#000" stroke-width="1.3"/>
<circle cx="235.74" cy="184.26" r="1.78" fill="#fff" stroke="#000" stroke-width="1.3"/>
<circle cx="239.9" cy="186.27" r="1.78" fill="#fff" stroke="#000" stroke-width="1.3"/>
<circle cx="232.34" cy="193.04" r="1.78" fill="#fff" stroke="#000" stroke-width="1.3"/>
<circle cx="235.11" cy="191.78" r="1.78" fill="#fff" stroke="#000" stroke-width="1.3"/>
<circle cx="240.15" cy="191.15" r="1.78" fill="#fff" stroke="#000" stroke-width="1.3"/>
<circle cx="242.92" cy="192.79" r="1.78" fill="#fff" stroke="#000" stroke-width="1.3"/>
<circle cx="237.38" cy="197.07" r="1.78" fill="#fff" stroke="#000" stroke-width="1.3"/>
<circle cx="231.34" cy="199.96" r="1.78" fill="#fff" stroke="#000" stroke-width="1.3"/>
<circle cx="243.68" cy="199.59" r="1.78" fill="#fff" stroke="#000" stroke-width="1.3"/>
<circle cx="235.11" cy="202.86" r="1.78" fill="#fff" stroke="#000" stroke-width="1.3"/>
<circle cx="239.9" cy="202.86" r="1.78" fill="#fff" stroke="#000" stroke-width="1.3"/>
<circle cx="231.96" cy="204.62" r="1.78" fill="#fff" stroke="#000" stroke-width="1.3"/>
<circle cx="243.3" cy="203.74" r="1.78" fill="#fff" stroke="#000" stroke-width="1.3"/>
<circle cx="233.22" cy="207.52" r="1.78" fill="#fff" stroke="#000" stroke-width="1.3"/>
<circle cx="242.04" cy="206.89" r="1.78" fill="#fff" stroke="#000" stroke-width="1.3"/>
<circle cx="232.59" cy="213.82" r="1.78" fill="#fff" stroke="#000" stroke-width="1.3"/>
<circle cx="242.67" cy="213.82" r="1.78" fill="#fff" stroke="#000" stroke-width="1.3"/>
<circle cx="237.38" cy="221.0" r="1.78" fill="#fff" stroke="#000" stroke-width="1.3"/>
<circle cx="231.96" cy="223.89" r="1.78" fill="#fff" stroke="#000" stroke-width="1.3"/>
<circle cx="243.3" cy="224.27" r="1.78" fill="#fff" stroke="#000" stroke-width="1.3"/>
<circle cx="234.48" cy="226.41" r="1.78" fill="#fff" stroke="#000" stroke-width="1.3"/>
<circle cx="240.78" cy="227.04" r="1.78" fill="#fff" stroke="#000" stroke-width="1.3"/>
<circle cx="237.63" cy="228.55" r="1.78" fill="#fff" stroke="#000" stroke-width="1.3"/>
<circle cx="231.34" cy="230.82" r="1.78" fill="#fff" stroke="#000" stroke-width="1.3"/>
<circle cx="243.3" cy="231.45" r="1.78" fill="#fff" stroke="#000" stroke-width="1.3"/>
<circle cx="234.86" cy="227.26" r="1.78" fill="#fff" stroke="#000" stroke-width="1.3"/>
<circle cx="237.63" cy="228.27" r="1.78" fill="#fff" stroke="#000" stroke-width="1.3"/>
<circle cx="240.15" cy="227.51" r="1.78" fill="#fff" stroke="#000" stroke-width="1.3"/>
<circle cx="231.34" cy="231.29" r="1.78" fill="#fff" stroke="#000" stroke-width="1.3"/>
<circle cx="243.93" cy="232.93" r="1.78" fill="#fff" stroke="#000" stroke-width="1.3"/>
<circle cx="235.11" cy="234.19" r="1.78" fill="#fff" stroke="#000" stroke-width="1.3"/>
<circle cx="239.9" cy="235.07" r="1.78" fill="#fff" stroke="#000" stroke-width="1.3"/>
<circle cx="231.08" cy="236.71" r="1.78" fill="#fff" stroke="#000" stroke-width="1.3"/>
<circle cx="232.59" cy="238.59" r="1.78" fill="#fff" stroke="#000" stroke-width="1.3"/>
<circle cx="234.48" cy="240.11" r="1.78" fill="#fff" stroke="#000" stroke-width="1.3"/>
<circle cx="236.37" cy="241.74" r="1.78" fill="#fff" stroke="#000" stroke-width="1.3"/>
<circle cx="238.26" cy="241.74" r="1.78" fill="#fff" stroke="#000" stroke-width="1.3"/>
<circle cx="240.15" cy="240.11" r="1.78" fill="#fff" stroke="#000" stroke-width="1.3"/>
<circle cx="242.04" cy="238.59" r="1.78" fill="#fff" stroke="#000" stroke-width="1.3"/>
<circle cx="243.93" cy="237.08" r="1.78" fill="#fff" stroke="#000" stroke-width="1.3"/>
<circle cx="233.85" cy="237.34" r="1.78" fill="#fff" stroke="#000" stroke-width="1.3"/>
<circle cx="237.0" cy="238.85" r="1.78" fill="#fff" stroke="#000" stroke-width="1.3"/>
<circle cx="240.78" cy="237.59" r="1.78" fill="#fff" stroke="#000" stroke-width="1.3"/>
<circle cx="232.34" cy="246.78" r="1.78" fill="#fff" stroke="#000" stroke-width="1.3"/>
<circle cx="237.63" cy="248.67" r="1.78" fill="#fff" stroke="#000" stroke-width="1.3"/>
<circle cx="242.67" cy="244.89" r="1.78" fill="#fff" stroke="#000" stroke-width="1.3"/>
<circle cx="237.63" cy="261.64" r="1.78" fill="#fff" stroke="#000" stroke-width="1.3"/>
<circle cx="262.82" cy="153.15" r="1.78" fill="#fff" stroke="#000" stroke-width="1.3"/>
<circle cx="257.78" cy="180.6" r="1.78" fill="#fff" stroke="#000" stroke-width="1.3"/>
<circle cx="262.82" cy="183.0" r="1.78" fill="#fff" stroke="#000" stroke-width="1.3"/>
<circle cx="268.11" cy="181.74" r="1.78" fill="#fff" stroke="#000" stroke-width="1.3"/>
<circle cx="257.78" cy="194.05" r="1.78" fill="#fff" stroke="#000" stroke-width="1.3"/>
<circle cx="262.82" cy="194.3" r="1.78" fill="#fff" stroke="#000" stroke-width="1.3"/>
<circle cx="268.11" cy="192.41" r="1.78" fill="#fff" stroke="#000" stroke-width="1.3"/>
<circle cx="260.3" cy="199.96" r="1.78" fill="#fff" stroke="#000" stroke-width="1.3"/>
<circle cx="265.34" cy="199.96" r="1.78" fill="#fff" stroke="#000" stroke-width="1.3"/>
<circle cx="256.52" cy="203.37" r="1.78" fill="#fff" stroke="#000" stroke-width="1.3"/>
<circle cx="269.12" cy="203.74" r="1.78" fill="#fff" stroke="#000" stroke-width="1.3"/>
<circle cx="260.3" cy="206.89" r="1.78" fill="#fff" stroke="#000" stroke-width="1.3"/>
<circle cx="263.45" cy="205.63" r="1.78" fill="#fff" stroke="#000" stroke-width="1.3"/>
<circle cx="265.97" cy="206.89" r="1.78" fill="#fff" stroke="#000" stroke-width="1.3"/>
<circle cx="257.78" cy="209.41" r="1.78" fill="#fff" stroke="#000" stroke-width="1.3"/>
<circle cx="262.82" cy="208.78" r="1.78" fill="#fff" stroke="#000" stroke-width="1.3"/>
<circle cx="268.49" cy="209.41" r="1.78" fill="#fff" stroke="#000" stroke-width="1.3"/>
<circle cx="257.78" cy="211.93" r="1.78" fill="#fff" stroke="#000" stroke-width="1.3"/>
<circle cx="260.3" cy="211.3" r="1.78" fill="#fff" stroke="#000" stroke-width="1.3"/>
<circle cx="264.71" cy="211.68" r="1.78" fill="#fff" stroke="#000" stroke-width="1.3"/>
<circle cx="268.49" cy="212.18" r="1.78" fill="#fff" stroke="#000" stroke-width="1.3"/>
<circle cx="259.04" cy="214.45" r="1.78" fill="#fff" stroke="#000" stroke-width="1.3"/>
<circle cx="265.34" cy="215.08" r="1.78" fill="#fff" stroke="#000" stroke-width="1.3"/>
<circle cx="262.19" cy="216.34" r="1.78" fill="#fff" stroke="#000" stroke-width="1.3"/>
<circle cx="269.12" cy="218.23" r="1.78" fill="#fff" stroke="#000" stroke-width="1.3"/>
<circle cx="256.52" cy="218.86" r="1.78" fill="#fff" stroke="#000" stroke-width="1.3"/>
<circle cx="256.52" cy="225.78" r="1.78" fill="#fff" stroke="#000" stroke-width="1.3"/>
<circle cx="260.93" cy="229.56" r="1.78" fill="#fff" stroke="#000" stroke-width="1.3"/>
<circle cx="264.71" cy="230.19" r="1.78" fill="#fff" stroke="#000" stroke-width="1.3"/>
<circle cx="269.12" cy="229.31" r="1.78" fill="#fff" stroke="#000" stroke-width="1.3"/>
<circle cx="256.52" cy="227.01" r="1.78" fill="#fff" stroke="#000" stroke-width="1.3"/>
<circle cx="260.93" cy="230.03" r="1.78" fill="#fff" stroke="#000" stroke-width="1.3"/>
<circle cx="265.09" cy="231.29" r="1.78" fill="#fff" stroke="#000" stroke-width="1.3"/>
<circle cx="269.37" cy="229.78" r="1.78" fill="#fff" stroke="#000" stroke-width="1.3"/>
<circle cx="265.34" cy="236.08" r="1.78" fill="#fff" stroke="#000" stroke-width="1.3"/>
<circle cx="257.78" cy="237.96" r="1.78" fill="#fff" stroke="#000" stroke-width="1.3"/>
<circle cx="260.93" cy="240.48" r="1.78" fill="#fff" stroke="#000" stroke-width="1.3"/>
<circle cx="265.34" cy="241.74" r="1.78" fill="#fff" stroke="#000" stroke-width="1.3"/>
<circle cx="268.49" cy="242.37" r="1.78" fill="#fff" stroke="#000" stroke-width="1.3"/>
<circle cx="257.78" cy="242.12" r="1.78" fill="#fff" stroke="#000" stroke-width="1.3"/>
<circle cx="262.19" cy="244.26" r="1.78" fill="#fff" stroke="#000" stroke-width="1.3"/>
<circle cx="265.34" cy="244.89" r="1.78" fill="#fff" stroke="#000" stroke-width="1.3"/>
<circle cx="256.52" cy="248.42" r="1.78" fill="#fff" stroke="#000" stroke-width="1.3"/>
<circle cx="264.71" cy="248.67" r="1.78" fill="#fff" stroke="#000" stroke-width="1.3"/>
<circle cx="269.37" cy="248.04" r="1.78" fill="#fff" stroke="#000" stroke-width="1.3"/>
<circle cx="260.93" cy="251.82" r="1.78" fill="#fff" stroke="#000" stroke-width="1.3"/>
<circle cx="257.78" cy="256.6" r="1.78" fill="#fff" stroke="#000" stroke-width="1.3"/>
<circle cx="267.86" cy="255.97" r="1.78" fill="#fff" stroke="#000" stroke-width="1.3"/>
<circle cx="262.82" cy="260.01" r="1.78" fill="#fff" stroke="#000" stroke-width="1.3"/>
<circle cx="262.82" cy="267.56" r="1.78" fill="#fff" stroke="#000" stroke-width="1.3"/>
<circle cx="288.05" cy="113.19" r="1.78" fill="#fff" stroke="#000" stroke-width="1.3"/>
<circle cx="288.05" cy="120.74" r="1.78" fill="#fff" stroke="#000" stroke-width="1.3"/>
<circle cx="290.82" cy="124.9" r="1.78" fill="#fff" stroke="#000" stroke-width="1.3"/>
<circle cx="283.01" cy="128.93" r="1.78" fill="#fff" stroke="#000" stroke-width="1.3"/>
<circle cx="285.53" cy="133.97" r="1.78" fill="#fff" stroke="#000" stroke-width="1.3"/>
<circle cx="293.34" cy="138.38" r="1.78" fill="#fff" stroke="#000" stroke-width="1.3"/>
<circle cx="290.57" cy="140.64" r="1.78" fill="#fff" stroke="#000" stroke-width="1.3"/>
<circle cx="283.01" cy="144.67" r="1.78" fill="#fff" stroke="#000" stroke-width="1.3"/>
<circle cx="283.01" cy="145.0" r="1.78" fill="#fff" stroke="#000" stroke-width="1.3"/>
<circle cx="285.53" cy="149.41" r="1.78" fill="#fff" stroke="#000" stroke-width="1.3"/>
<circle cx="290.82" cy="152.3" r="1.78" fill="#fff" stroke="#000" stroke-width="1.3"/>
<circle cx="283.01" cy="157.97" r="1.78" fill="#fff" stroke="#000" stroke-width="1.3"/>
<circle cx="288.05" cy="161.12" r="1.78" fill="#fff" stroke="#000" stroke-width="1.3"/>
<circle cx="293.34" cy="160.74" r="1.78" fill="#fff" stroke="#000" stroke-width="1.3"/>
<circle cx="285.53" cy="174.6" r="1.78" fill="#fff" stroke="#000" stroke-width="1.3"/>
<circle cx="290.82" cy="174.22" r="1.78" fill="#fff" stroke="#000" stroke-width="1.3"/>
<circle cx="293.97" cy="177.75" r="1.78" fill="#fff" stroke="#000" stroke-width="1.3"/>
<circle cx="282.38" cy="178.75" r="1.78" fill="#fff" stroke="#000" stroke-width="1.3"/>
<circle cx="285.15" cy="180.89" r="1.78" fill="#fff" stroke="#000" stroke-width="1.3"/>
<circle cx="288.93" cy="180.26" r="1.78" fill="#fff" stroke="#000" stroke-width="1.3"/>
<circle cx="292.08" cy="179.63" r="1.78" fill="#fff" stroke="#000" stroke-width="1.3"/>
<circle cx="282.0" cy="184.67" r="1.78" fill="#fff" stroke="#000" stroke-width="1.3"/>
<circle cx="290.19" cy="185.3" r="1.78" fill="#fff" stroke="#000" stroke-width="1.3"/>
<circle cx="294.6" cy="183.41" r="1.78" fill="#fff" stroke="#000" stroke-width="1.3"/>
<circle cx="282.0" cy="184.89" r="1.78" fill="#fff" stroke="#000" stroke-width="1.3"/>
<circle cx="290.19" cy="185.77" r="1.78" fill="#fff" stroke="#000" stroke-width="1.3"/>
<circle cx="294.6" cy="184.26" r="1.78" fill="#fff" stroke="#000" stroke-width="1.3"/>
<circle cx="286.16" cy="188.29" r="1.78" fill="#fff" stroke="#000" stroke-width="1.3"/>
<circle cx="285.15" cy="191.19" r="1.78" fill="#fff" stroke="#000" stroke-width="1.3"/>
<circle cx="290.82" cy="194.08" r="1.78" fill="#fff" stroke="#000" stroke-width="1.3"/>
<circle cx="282.0" cy="196.6" r="1.78" fill="#fff" stroke="#000" stroke-width="1.3"/>
<circle cx="294.6" cy="196.22" r="1.78" fill="#fff" stroke="#000" stroke-width="1.3"/>
<circle cx="290.19" cy="197.86" r="1.78" fill="#fff" stroke="#000" stroke-width="1.3"/>
<circle cx="285.78" cy="199.62" r="1.78" fill="#fff" stroke="#000" stroke-width="1.3"/>
<circle cx="288.05" cy="210.71" r="1.78" fill="#fff" stroke="#000" stroke-width="1.3"/>
<circle cx="290.82" cy="223.55" r="1.78" fill="#fff" stroke="#000" stroke-width="1.3"/>
<circle cx="285.53" cy="226.45" r="1.78" fill="#fff" stroke="#000" stroke-width="1.3"/>
<circle cx="313.49" cy="186.53" r="1.78" fill="#fff" stroke="#000" stroke-width="1.3"/>
<circle cx="313.49" cy="206.3" r="1.78" fill="#fff" stroke="#000" stroke-width="1.3"/>
<circle cx="313.49" cy="216.75" r="1.78" fill="#fff" stroke="#000" stroke-width="1.3"/>
<circle cx="308.26" cy="224.78" r="1.78" fill="#fff" stroke="#000" stroke-width="1.3"/>
<circle cx="313.55" cy="226.67" r="1.78" fill="#fff" stroke="#000" stroke-width="1.3"/>
<circle cx="318.72" cy="225.16" r="1.78" fill="#fff" stroke="#000" stroke-width="1.3"/>
<circle cx="310.78" cy="230.82" r="1.78" fill="#fff" stroke="#000" stroke-width="1.3"/>
<circle cx="307.63" cy="234.22" r="1.78" fill="#fff" stroke="#000" stroke-width="1.3"/>
<circle cx="315.82" cy="233.59" r="1.78" fill="#fff" stroke="#000" stroke-width="1.3"/>
<circle cx="318.97" cy="236.74" r="1.78" fill="#fff" stroke="#000" stroke-width="1.3"/>
<circle cx="310.78" cy="235.11" r="1.78" fill="#fff" stroke="#000" stroke-width="1.3"/>
<circle cx="308.26" cy="241.15" r="1.78" fill="#fff" stroke="#000" stroke-width="1.3"/>
<circle cx="318.97" cy="240.52" r="1.78" fill="#fff" stroke="#000" stroke-width="1.3"/>
<circle cx="313.55" cy="245.56" r="1.78" fill="#fff" stroke="#000" stroke-width="1.3"/>
<circle cx="308.26" cy="247.45" r="1.78" fill="#fff" stroke="#000" stroke-width="1.3"/>
<circle cx="318.72" cy="250.97" r="1.78" fill="#fff" stroke="#000" stroke-width="1.3"/>
<circle cx="313.55" cy="251.86" r="1.78" fill="#fff" stroke="#000" stroke-width="1.3"/>
<circle cx="310.78" cy="256.93" r="1.78" fill="#fff" stroke="#000" stroke-width="1.3"/>
<circle cx="308.26" cy="259.82" r="1.78" fill="#fff" stroke="#000" stroke-width="1.3"/>
<circle cx="316.07" cy="259.07" r="1.78" fill="#fff" stroke="#000" stroke-width="1.3"/>
<circle cx="318.72" cy="261.96" r="1.78" fill="#fff" stroke="#000" stroke-width="1.3"/>
<circle cx="313.55" cy="264.48" r="1.78" fill="#fff" stroke="#000" stroke-width="1.3"/>
<circle cx="338.74" cy="225.41" r="1.78" fill="#fff" stroke="#000" stroke-width="1.3"/>
<circle cx="338.74" cy="215.33" r="1.78" fill="#fff" stroke="#000" stroke-width="1.3"/>
<circle cx="333.2" cy="237.37" r="1.78" fill="#fff" stroke="#000" stroke-width="1.3"/>
<circle cx="335.97" cy="239.26" r="1.78" fill="#fff" stroke="#000" stroke-width="1.3"/>
<circle cx="338.74" cy="241.78" r="1.78" fill="#fff" stroke="#000" stroke-width="1.3"/>
<circle cx="341.64" cy="241.15" r="1.78" fill="#fff" stroke="#000" stroke-width="1.3"/>
<circle cx="344.41" cy="238.38" r="1.78" fill="#fff" stroke="#000" stroke-width="1.3"/>
<circle cx="333.2" cy="246.19" r="1.78" fill="#fff" stroke="#000" stroke-width="1.3"/>
<circle cx="344.41" cy="246.19" r="1.78" fill="#fff" stroke="#000" stroke-width="1.3"/>
<circle cx="335.97" cy="248.08" r="1.78" fill="#fff" stroke="#000" stroke-width="1.3"/>
<circle cx="341.64" cy="248.08" r="1.78" fill="#fff" stroke="#000" stroke-width="1.3"/>
<circle cx="333.45" cy="250.6" r="1.78" fill="#fff" stroke="#000" stroke-width="1.3"/>
<circle cx="338.74" cy="249.72" r="1.78" fill="#fff" stroke="#000" stroke-width="1.3"/>
<circle cx="344.41" cy="250.6" r="1.78" fill="#fff" stroke="#000" stroke-width="1.3"/>
<circle cx="333.45" cy="256.3" r="1.78" fill="#fff" stroke="#000" stroke-width="1.3"/>
<circle cx="344.41" cy="257.56" r="1.78" fill="#fff" stroke="#000" stroke-width="1.3"/>
<circle cx="335.97" cy="259.45" r="1.78" fill="#fff" stroke="#000" stroke-width="1.3"/>
<circle cx="341.64" cy="259.45" r="1.78" fill="#fff" stroke="#000" stroke-width="1.3"/>
<circle cx="333.45" cy="261.96" r="1.78" fill="#fff" stroke="#000" stroke-width="1.3"/>
<circle cx="344.41" cy="261.96" r="1.78" fill="#fff" stroke="#000" stroke-width="1.3"/>
<circle cx="337.23" cy="263.85" r="1.78" fill="#fff" stroke="#000" stroke-width="1.3"/>
<circle cx="341.64" cy="264.48" r="1.78" fill="#fff" stroke="#000" stroke-width="1.3"/>
<circle cx="333.45" cy="268.89" r="1.78" fill="#fff" stroke="#000" stroke-width="1.3"/>
<circle cx="335.97" cy="270.15" r="1.78" fill="#fff" stroke="#000" stroke-width="1.3"/>
<circle cx="341.64" cy="268.89" r="1.78" fill="#fff" stroke="#000" stroke-width="1.3"/>
<circle cx="344.41" cy="268.89" r="1.78" fill="#fff" stroke="#000" stroke-width="1.3"/>
<circle cx="338.74" cy="272.04" r="1.78" fill="#fff" stroke="#000" stroke-width="1.3"/>
<circle cx="333.45" cy="274.18" r="1.78" fill="#fff" stroke="#000" stroke-width="1.3"/>
<circle cx="344.16" cy="275.19" r="1.78" fill="#fff" stroke="#000" stroke-width="1.3"/>
<circle cx="338.74" cy="278.72" r="1.78" fill="#fff" stroke="#000" stroke-width="1.3"/>
<circle cx="401.37" cy="86.55" r="1.78" fill="#fff" stroke="#000" stroke-width="1.3"/>
<circle cx="406.66" cy="87.93" r="1.78" fill="#fff" stroke="#000" stroke-width="1.3"/>
<circle cx="403.89" cy="123.78" r="1.78" fill="#fff" stroke="#000" stroke-width="1.3"/>
<circle cx="398.6" cy="134.48" r="1.78" fill="#fff" stroke="#000" stroke-width="1.3"/>
<circle cx="403.89" cy="134.86" r="1.78" fill="#fff" stroke="#000" stroke-width="1.3"/>
<circle cx="409.18" cy="132.34" r="1.78" fill="#fff" stroke="#000" stroke-width="1.3"/>
<circle cx="403.89" cy="147.08" r="1.78" fill="#fff" stroke="#000" stroke-width="1.3"/>
<circle cx="398.6" cy="153.38" r="1.78" fill="#fff" stroke="#000" stroke-width="1.3"/>
<circle cx="403.89" cy="153.75" r="1.78" fill="#fff" stroke="#000" stroke-width="1.3"/>
<circle cx="409.18" cy="150.86" r="1.78" fill="#fff" stroke="#000" stroke-width="1.3"/>
<circle cx="403.89" cy="160.05" r="1.78" fill="#fff" stroke="#000" stroke-width="1.3"/>
<circle cx="401.37" cy="167.3" r="1.78" fill="#fff" stroke="#000" stroke-width="1.3"/>
<circle cx="406.66" cy="170.71" r="1.78" fill="#fff" stroke="#000" stroke-width="1.3"/>
<circle cx="398.22" cy="176.12" r="1.78" fill="#fff" stroke="#000" stroke-width="1.3"/>
<circle cx="409.94" cy="176.12" r="1.78" fill="#fff" stroke="#000" stroke-width="1.3"/>
<circle cx="401.12" cy="178.89" r="1.78" fill="#fff" stroke="#000" stroke-width="1.3"/>
<circle cx="403.89" cy="181.16" r="1.78" fill="#fff" stroke="#000" stroke-width="1.3"/>
<circle cx="407.04" cy="180.15" r="1.78" fill="#fff" stroke="#000" stroke-width="1.3"/>
<circle cx="409.18" cy="183.3" r="1.78" fill="#fff" stroke="#000" stroke-width="1.3"/>
<circle cx="398.6" cy="185.82" r="1.78" fill="#fff" stroke="#000" stroke-width="1.3"/>
<circle cx="403.89" cy="186.7" r="1.78" fill="#fff" stroke="#000" stroke-width="1.3"/>
<circle cx="398.22" cy="188.97" r="1.78" fill="#fff" stroke="#000" stroke-width="1.3"/>
<circle cx="409.94" cy="189.22" r="1.78" fill="#fff" stroke="#000" stroke-width="1.3"/>
<circle cx="400.74" cy="190.86" r="1.78" fill="#fff" stroke="#000" stroke-width="1.3"/>
<circle cx="407.42" cy="191.23" r="1.78" fill="#fff" stroke="#000" stroke-width="1.3"/>
<circle cx="398.22" cy="197.15" r="1.78" fill="#fff" stroke="#000" stroke-width="1.3"/>
<circle cx="407.04" cy="197.15" r="1.78" fill="#fff" stroke="#000" stroke-width="1.3"/>
<circle cx="398.22" cy="200.55" r="1.78" fill="#fff" stroke="#000" stroke-width="1.3"/>
<circle cx="403.89" cy="200.93" r="1.78" fill="#fff" stroke="#000" stroke-width="1.3"/>
<circle cx="409.94" cy="200.55" r="1.78" fill="#fff" stroke="#000" stroke-width="1.3"/>
<circle cx="401.12" cy="202.82" r="1.78" fill="#fff" stroke="#000" stroke-width="1.3"/>
<circle cx="407.04" cy="202.82" r="1.78" fill="#fff" stroke="#000" stroke-width="1.3"/>
<circle cx="398.22" cy="200.52" r="1.78" fill="#fff" stroke="#000" stroke-width="1.3"/>
<circle cx="401.12" cy="201.53" r="1.78" fill="#fff" stroke="#000" stroke-width="1.3"/>
<circle cx="403.89" cy="202.03" r="1.78" fill="#fff" stroke="#000" stroke-width="1.3"/>
<circle cx="407.04" cy="201.53" r="1.78" fill="#fff" stroke="#000" stroke-width="1.3"/>
<circle cx="409.94" cy="200.52" r="1.78" fill="#fff" stroke="#000" stroke-width="1.3"/>
<circle cx="398.22" cy="207.07" r="1.78" fill="#fff" stroke="#000" stroke-width="1.3"/>
<circle cx="409.94" cy="206.56" r="1.78" fill="#fff" stroke="#000" stroke-width="1.3"/>
<circle cx="401.12" cy="208.71" r="1.78" fill="#fff" stroke="#000" stroke-width="1.3"/>
<circle cx="403.89" cy="208.08" r="1.78" fill="#fff" stroke="#000" stroke-width="1.3"/>
<circle cx="407.04" cy="208.71" r="1.78" fill="#fff" stroke="#000" stroke-width="1.3"/>
<circle cx="401.12" cy="210.59" r="1.78" fill="#fff" stroke="#000" stroke-width="1.3"/>
<circle cx="403.89" cy="211.22" r="1.78" fill="#fff" stroke="#000" stroke-width="1.3"/>
<circle cx="407.04" cy="210.59" r="1.78" fill="#fff" stroke="#000" stroke-width="1.3"/>
<circle cx="401.12" cy="216.89" r="1.78" fill="#fff" stroke="#000" stroke-width="1.3"/>
<circle cx="407.04" cy="216.89" r="1.78" fill="#fff" stroke="#000" stroke-width="1.3"/>
<circle cx="399.11" cy="219.66" r="1.78" fill="#fff" stroke="#000" stroke-width="1.3"/>
<circle cx="403.89" cy="218.78" r="1.78" fill="#fff" stroke="#000" stroke-width="1.3"/>
<circle cx="408.93" cy="218.78" r="1.78" fill="#fff" stroke="#000" stroke-width="1.3"/>
<circle cx="402.63" cy="221.68" r="1.78" fill="#fff" stroke="#000" stroke-width="1.3"/>
<circle cx="405.78" cy="221.3" r="1.78" fill="#fff" stroke="#000" stroke-width="1.3"/>
<circle cx="401.12" cy="227.6" r="1.78" fill="#fff" stroke="#000" stroke-width="1.3"/>
<circle cx="407.04" cy="227.6" r="1.78" fill="#fff" stroke="#000" stroke-width="1.3"/>
<circle cx="398.22" cy="228.86" r="1.78" fill="#fff" stroke="#000" stroke-width="1.3"/>
<circle cx="403.89" cy="228.23" r="1.78" fill="#fff" stroke="#000" stroke-width="1.3"/>
<circle cx="409.56" cy="228.86" r="1.78" fill="#fff" stroke="#000" stroke-width="1.3"/>
<circle cx="400.11" cy="231.38" r="1.78" fill="#fff" stroke="#000" stroke-width="1.3"/>
<circle cx="403.89" cy="232.01" r="1.78" fill="#fff" stroke="#000" stroke-width="1.3"/>
<circle cx="407.67" cy="231.38" r="1.78" fill="#fff" stroke="#000" stroke-width="1.3"/>
<circle cx="397.97" cy="240.79" r="1.78" fill="#fff" stroke="#000" stroke-width="1.3"/>
<circle cx="403.89" cy="237.89" r="1.78" fill="#fff" stroke="#000" stroke-width="1.3"/>
<circle cx="402.0" cy="243.81" r="1.78" fill="#fff" stroke="#000" stroke-width="1.3"/>
<circle cx="406.16" cy="241.04" r="1.78" fill="#fff" stroke="#000" stroke-width="1.3"/>
<circle cx="410.19" cy="240.41" r="1.78" fill="#fff" stroke="#000" stroke-width="1.3"/>
<circle cx="431.6" cy="207.07" r="1.78" fill="#fff" stroke="#000" stroke-width="1.3"/>
<circle cx="426.56" cy="211.22" r="1.78" fill="#fff" stroke="#000" stroke-width="1.3"/>
<circle cx="434.37" cy="215.0" r="1.78" fill="#fff" stroke="#000" stroke-width="1.3"/>
<circle cx="424.04" cy="216.89" r="1.78" fill="#fff" stroke="#000" stroke-width="1.3"/>
<circle cx="429.08" cy="218.78" r="1.78" fill="#fff" stroke="#000" stroke-width="1.3"/>
<circle cx="426.56" cy="221.93" r="1.78" fill="#fff" stroke="#000" stroke-width="1.3"/>
<circle cx="431.6" cy="221.3" r="1.78" fill="#fff" stroke="#000" stroke-width="1.3"/>
<circle cx="434.37" cy="222.56" r="1.78" fill="#fff" stroke="#000" stroke-width="1.3"/>
<circle cx="425.05" cy="223.82" r="1.78" fill="#fff" stroke="#000" stroke-width="1.3"/>
<circle cx="429.08" cy="224.45" r="1.78" fill="#fff" stroke="#000" stroke-width="1.3"/>
<circle cx="432.86" cy="224.45" r="1.78" fill="#fff" stroke="#000" stroke-width="1.3"/>
<circle cx="426.56" cy="227.6" r="1.78" fill="#fff" stroke="#000" stroke-width="1.3"/>
<circle cx="430.34" cy="227.6" r="1.78" fill="#fff" stroke="#000" stroke-width="1.3"/>
<circle cx="434.75" cy="228.23" r="1.78" fill="#fff" stroke="#000" stroke-width="1.3"/>
<circle cx="424.67" cy="228.86" r="1.78" fill="#fff" stroke="#000" stroke-width="1.3"/>
<circle cx="428.45" cy="231.38" r="1.78" fill="#fff" stroke="#000" stroke-width="1.3"/>
<circle cx="432.23" cy="231.38" r="1.78" fill="#fff" stroke="#000" stroke-width="1.3"/>
<circle cx="435.38" cy="232.01" r="1.78" fill="#fff" stroke="#000" stroke-width="1.3"/>
<circle cx="422.78" cy="233.26" r="1.78" fill="#fff" stroke="#000" stroke-width="1.3"/>
<circle cx="425.3" cy="234.52" r="1.78" fill="#fff" stroke="#000" stroke-width="1.3"/>
<circle cx="423.41" cy="237.89" r="1.78" fill="#fff" stroke="#000" stroke-width="1.3"/>
<circle cx="426.56" cy="241.67" r="1.78" fill="#fff" stroke="#000" stroke-width="1.3"/>
<circle cx="432.23" cy="241.67" r="1.78" fill="#fff" stroke="#000" stroke-width="1.3"/>
<circle cx="422.78" cy="244.56" r="1.78" fill="#fff" stroke="#000" stroke-width="1.3"/>
<circle cx="429.08" cy="243.81" r="1.78" fill="#fff" stroke="#000" stroke-width="1.3"/>
<circle cx="435.38" cy="244.19" r="1.78" fill="#fff" stroke="#000" stroke-width="1.3"/>
<circle cx="426.56" cy="246.08" r="1.78" fill="#fff" stroke="#000" stroke-width="1.3"/>
<circle cx="431.6" cy="246.08" r="1.78" fill="#fff" stroke="#000" stroke-width="1.3"/>
<circle cx="424.04" cy="249.85" r="1.78" fill="#fff" stroke="#000" stroke-width="1.3"/>
<circle cx="427.19" cy="249.22" r="1.78" fill="#fff" stroke="#000" stroke-width="1.3"/>
<circle cx="432.23" cy="248.59" r="1.78" fill="#fff" stroke="#000" stroke-width="1.3"/>
<circle cx="435.38" cy="249.85" r="1.78" fill="#fff" stroke="#000" stroke-width="1.3"/>
<circle cx="428.45" cy="253.0" r="1.78" fill="#fff" stroke="#000" stroke-width="1.3"/>
<circle cx="432.23" cy="252.37" r="1.78" fill="#fff" stroke="#000" stroke-width="1.3"/>
<circle cx="429.71" cy="254.26" r="1.78" fill="#fff" stroke="#000" stroke-width="1.3"/>
<circle cx="431.85" cy="261.82" r="1.78" fill="#fff" stroke="#000" stroke-width="1.3"/>
<circle cx="426.56" cy="264.34" r="1.78" fill="#fff" stroke="#000" stroke-width="1.3"/>
<circle cx="454.52" cy="133.22" r="1.78" fill="#fff" stroke="#000" stroke-width="1.3"/>
<circle cx="454.52" cy="141.66" r="1.78" fill="#fff" stroke="#000" stroke-width="1.3"/>
<circle cx="449.23" cy="150.86" r="1.78" fill="#fff" stroke="#000" stroke-width="1.3"/>
<circle cx="454.52" cy="153.0" r="1.78" fill="#fff" stroke="#000" stroke-width="1.3"/>
<circle cx="459.94" cy="150.6" r="1.78" fill="#fff" stroke="#000" stroke-width="1.3"/>
<circle cx="454.52" cy="158.63" r="1.78" fill="#fff" stroke="#000" stroke-width="1.3"/>
<circle cx="448.22" cy="161.53" r="1.78" fill="#fff" stroke="#000" stroke-width="1.3"/>
<circle cx="460.82" cy="162.41" r="1.78" fill="#fff" stroke="#000" stroke-width="1.3"/>
<circle cx="452.38" cy="165.3" r="1.78" fill="#fff" stroke="#000" stroke-width="1.3"/>
<circle cx="456.66" cy="165.56" r="1.78" fill="#fff" stroke="#000" stroke-width="1.3"/>
<circle cx="449.11" cy="167.45" r="1.78" fill="#fff" stroke="#000" stroke-width="1.3"/>
<circle cx="459.94" cy="169.96" r="1.78" fill="#fff" stroke="#000" stroke-width="1.3"/>
<circle cx="454.52" cy="171.22" r="1.78" fill="#fff" stroke="#000" stroke-width="1.3"/>
<circle cx="448.22" cy="180.42" r="1.78" fill="#fff" stroke="#000" stroke-width="1.3"/>
<circle cx="460.82" cy="180.67" r="1.78" fill="#fff" stroke="#000" stroke-width="1.3"/>
<circle cx="452.38" cy="182.56" r="1.78" fill="#fff" stroke="#000" stroke-width="1.3"/>
<circle cx="456.66" cy="182.56" r="1.78" fill="#fff" stroke="#000" stroke-width="1.3"/>
<circle cx="452.0" cy="192.01" r="1.78" fill="#fff" stroke="#000" stroke-width="1.3"/>
<circle cx="459.56" cy="194.9" r="1.78" fill="#fff" stroke="#000" stroke-width="1.3"/>
<circle cx="457.04" cy="199.15" r="1.78" fill="#fff" stroke="#000" stroke-width="1.3"/>
<circle cx="452.0" cy="204.19" r="1.78" fill="#fff" stroke="#000" stroke-width="1.3"/>
<circle cx="449.23" cy="207.96" r="1.78" fill="#fff" stroke="#000" stroke-width="1.3"/>
<circle cx="459.94" cy="207.08" r="1.78" fill="#fff" stroke="#000" stroke-width="1.3"/>
<circle cx="454.52" cy="210.86" r="1.78" fill="#fff" stroke="#000" stroke-width="1.3"/>
<circle cx="452.0" cy="213.63" r="1.78" fill="#fff" stroke="#000" stroke-width="1.3"/>
<circle cx="457.04" cy="213.63" r="1.78" fill="#fff" stroke="#000" stroke-width="1.3"/>
<circle cx="450.11" cy="216.15" r="1.78" fill="#fff" stroke="#000" stroke-width="1.3"/>
<circle cx="458.93" cy="216.15" r="1.78" fill="#fff" stroke="#000" stroke-width="1.3"/>
<circle cx="453.26" cy="218.42" r="1.78" fill="#fff" stroke="#000" stroke-width="1.3"/>
<circle cx="456.41" cy="218.42" r="1.78" fill="#fff" stroke="#000" stroke-width="1.3"/>
<circle cx="448.22" cy="222.45" r="1.78" fill="#fff" stroke="#000" stroke-width="1.3"/>
<circle cx="452.38" cy="222.45" r="1.78" fill="#fff" stroke="#000" stroke-width="1.3"/>
<circle cx="456.66" cy="224.97" r="1.78" fill="#fff" stroke="#000" stroke-width="1.3"/>
<circle cx="460.82" cy="222.45" r="1.78" fill="#fff" stroke="#000" stroke-width="1.3"/>
<circle cx="454.52" cy="237.56" r="1.78" fill="#fff" stroke="#000" stroke-width="1.3"/>
<circle cx="479.71" cy="207.59" r="1.78" fill="#fff" stroke="#000" stroke-width="1.3"/>
<circle cx="482.23" cy="216.4" r="1.78" fill="#fff" stroke="#000" stroke-width="1.3"/>
<circle cx="474.29" cy="218.92" r="1.78" fill="#fff" stroke="#000" stroke-width="1.3"/>
<circle cx="477.19" cy="221.82" r="1.78" fill="#fff" stroke="#000" stroke-width="1.3"/>
<circle cx="485.13" cy="225.97" r="1.78" fill="#fff" stroke="#000" stroke-width="1.3"/>
<circle cx="482.23" cy="229.38" r="1.78" fill="#fff" stroke="#000" stroke-width="1.3"/>
<circle cx="474.67" cy="232.9" r="1.78" fill="#fff" stroke="#000" stroke-width="1.3"/>
<circle cx="477.19" cy="236.93" r="1.78" fill="#fff" stroke="#000" stroke-width="1.3"/>
<circle cx="482.23" cy="239.67" r="1.78" fill="#fff" stroke="#000" stroke-width="1.3"/>
<circle cx="486.01" cy="242.19" r="1.78" fill="#fff" stroke="#000" stroke-width="1.3"/>
<circle cx="474.04" cy="249.74" r="1.78" fill="#fff" stroke="#000" stroke-width="1.3"/>
<circle cx="477.19" cy="250.37" r="1.78" fill="#fff" stroke="#000" stroke-width="1.3"/>
<circle cx="485.38" cy="247.85" r="1.78" fill="#fff" stroke="#000" stroke-width="1.3"/>
<circle cx="482.23" cy="250.37" r="1.78" fill="#fff" stroke="#000" stroke-width="1.3"/>
<circle cx="479.71" cy="252.26" r="1.78" fill="#fff" stroke="#000" stroke-width="1.3"/>
<circle cx="477.19" cy="257.3" r="1.78" fill="#fff" stroke="#000" stroke-width="1.3"/>
<circle cx="482.23" cy="256.04" r="1.78" fill="#fff" stroke="#000" stroke-width="1.3"/>
<circle cx="474.29" cy="259.82" r="1.78" fill="#fff" stroke="#000" stroke-width="1.3"/>
<circle cx="485.13" cy="259.19" r="1.78" fill="#fff" stroke="#000" stroke-width="1.3"/>
<circle cx="479.71" cy="263.6" r="1.78" fill="#fff" stroke="#000" stroke-width="1.3"/>
<circle cx="479.71" cy="276.19" r="1.78" fill="#fff" stroke="#000" stroke-width="1.3"/>
<circle cx="473.29" cy="242.69" r="1.78" fill="#fff" stroke="#000" stroke-width="1.3"/>
<circle cx="505.13" cy="214.97" r="1.78" fill="#fff" stroke="#000" stroke-width="1.3"/>
<circle cx="505.13" cy="225.0" r="1.78" fill="#fff" stroke="#000" stroke-width="1.3"/>
<circle cx="499.33" cy="236.96" r="1.78" fill="#fff" stroke="#000" stroke-width="1.3"/>
<circle cx="502.23" cy="238.85" r="1.78" fill="#fff" stroke="#000" stroke-width="1.3"/>
<circle cx="505.13" cy="241.37" r="1.78" fill="#fff" stroke="#000" stroke-width="1.3"/>
<circle cx="507.9" cy="240.74" r="1.78" fill="#fff" stroke="#000" stroke-width="1.3"/>
<circle cx="510.79" cy="237.59" r="1.78" fill="#fff" stroke="#000" stroke-width="1.3"/>
<circle cx="499.33" cy="245.15" r="1.78" fill="#fff" stroke="#000" stroke-width="1.3"/>
<circle cx="510.79" cy="245.15" r="1.78" fill="#fff" stroke="#000" stroke-width="1.3"/>
<circle cx="502.23" cy="247.67" r="1.78" fill="#fff" stroke="#000" stroke-width="1.3"/>
<circle cx="505.13" cy="248.93" r="1.78" fill="#fff" stroke="#000" stroke-width="1.3"/>
<circle cx="507.9" cy="247.67" r="1.78" fill="#fff" stroke="#000" stroke-width="1.3"/>
<circle cx="499.33" cy="249.56" r="1.78" fill="#fff" stroke="#000" stroke-width="1.3"/>
<circle cx="510.79" cy="249.56" r="1.78" fill="#fff" stroke="#000" stroke-width="1.3"/>
<circle cx="499.33" cy="255.67" r="1.78" fill="#fff" stroke="#000" stroke-width="1.3"/>
<circle cx="510.79" cy="257.56" r="1.78" fill="#fff" stroke="#000" stroke-width="1.3"/>
<circle cx="502.23" cy="258.82" r="1.78" fill="#fff" stroke="#000" stroke-width="1.3"/>
<circle cx="507.9" cy="258.82" r="1.78" fill="#fff" stroke="#000" stroke-width="1.3"/>
<circle cx="499.33" cy="261.34" r="1.78" fill="#fff" stroke="#000" stroke-width="1.3"/>
<circle cx="505.13" cy="260.71" r="1.78" fill="#fff" stroke="#000" stroke-width="1.3"/>
<circle cx="510.79" cy="261.34" r="1.78" fill="#fff" stroke="#000" stroke-width="1.3"/>
<circle cx="502.86" cy="263.22" r="1.78" fill="#fff" stroke="#000" stroke-width="1.3"/>
<circle cx="507.27" cy="264.48" r="1.78" fill="#fff" stroke="#000" stroke-width="1.3"/>
<circle cx="499.33" cy="267.63" r="1.78" fill="#fff" stroke="#000" stroke-width="1.3"/>
<circle cx="502.23" cy="268.89" r="1.78" fill="#fff" stroke="#000" stroke-width="1.3"/>
<circle cx="505.13" cy="266.37" r="1.78" fill="#fff" stroke="#000" stroke-width="1.3"/>
<circle cx="507.9" cy="268.89" r="1.78" fill="#fff" stroke="#000" stroke-width="1.3"/>
<circle cx="510.79" cy="267.63" r="1.78" fill="#fff" stroke="#000" stroke-width="1.3"/>
<circle cx="505.13" cy="272.04" r="1.78" fill="#fff" stroke="#000" stroke-width="1.3"/>
<circle cx="499.71" cy="273.3" r="1.78" fill="#fff" stroke="#000" stroke-width="1.3"/>
<circle cx="510.16" cy="274.18" r="1.78" fill="#fff" stroke="#000" stroke-width="1.3"/>
<circle cx="505.13" cy="277.71" r="1.78" fill="#fff" stroke="#000" stroke-width="1.3"/>
<circle cx="505.13" cy="256.3" r="1.78" fill="#fff" stroke="#000" stroke-width="1.3"/>
<path d="M68.1 214H88.9" stroke="#000" stroke-width="2.4" fill="none"/>
<rect x="74.0" y="209.8" width="9.0" height="8.4" rx="1.5" fill="#000"/>
<path d="M93.19999999999999 240.3H114.0" stroke="#000" stroke-width="2.4" fill="none"/>
<rect x="97.6" y="236.8" width="12" height="7.0" rx="1.5" fill="#000"/>
<path d="M118.6 203.5H139.4" stroke="#000" stroke-width="2.4" fill="none"/>
<path d="M129 198.8V208.2M125.8 198.8H132.2M125.8 208.2H132.2" stroke="#000" stroke-width="2.1" fill="none"/>
<path d="M143.79999999999998 253.2H164.6" stroke="#000" stroke-width="2.4" fill="none"/>
<rect x="149.0" y="250.39999999999998" width="10.4" height="5.6" rx="1.5" fill="#000"/>
<path d="M170.2 250.7H189.2" stroke="#000" stroke-width="2.4" fill="none"/>
<rect x="172.2" y="247.7" width="15.0" height="6" rx="1.5" fill="#000"/>
<path d="M227.2 211.6H248.0" stroke="#000" stroke-width="2.4" fill="none"/>
<path d="M237.6 207.4V215.79999999999998M234.4 207.4H240.79999999999998M234.4 215.79999999999998H240.79999999999998" stroke="#000" stroke-width="2.1" fill="none"/>
<path d="M252.20000000000002 220.8H273.0" stroke="#000" stroke-width="2.4" fill="none"/>
<path d="M262.6 216.60000000000002V225.0M259.40000000000003 216.60000000000002H265.8M259.40000000000003 225.0H265.8" stroke="#000" stroke-width="2.1" fill="none"/>
<path d="M277.8 171.7H298.59999999999997" stroke="#000" stroke-width="2.4" fill="none"/>
<path d="M288.2 167.2V176.2M285.0 167.2H291.4M285.0 176.2H291.4" stroke="#000" stroke-width="2.1" fill="none"/>
<path d="M303.20000000000005 237.8H324.0" stroke="#000" stroke-width="2.4" fill="none"/>
<rect x="309.40000000000003" y="234.60000000000002" width="8.4" height="6.4" rx="1.5" fill="#000"/>
<path d="M328.40000000000003 253.7H349.2" stroke="#000" stroke-width="2.4" fill="none"/>
<rect x="333.2" y="251.1" width="11.2" height="5.2" rx="1.5" fill="#000"/>
<path d="M393.8 194H414.59999999999997" stroke="#000" stroke-width="2.4" fill="none"/>
<rect x="400.7" y="190.4" width="7.0" height="7.2" rx="1.5" fill="#000"/>
<path d="M419.0 235.8H439.79999999999995" stroke="#000" stroke-width="2.4" fill="none"/>
<rect x="423.09999999999997" y="232.9" width="12.6" height="5.8" rx="1.5" fill="#000"/>
<path d="M444.1 188.6H464.9" stroke="#000" stroke-width="2.4" fill="none"/>
<path d="M454.5 184.2V193.0M451.3 184.2H457.7M451.3 193.0H457.7" stroke="#000" stroke-width="2.1" fill="none"/>
<path d="M469.6 242.7H490.4" stroke="#000" stroke-width="2.4" fill="none"/>
<rect x="475.9" y="239.1" width="8.2" height="7.2" rx="1.5" fill="#000"/>
<path d="M495.7 252.6H514.7" stroke="#000" stroke-width="2.4" fill="none"/>
<rect x="498.7" y="250.0" width="13.0" height="5.2" rx="1.5" fill="#000"/>
</svg>
</body></html>
